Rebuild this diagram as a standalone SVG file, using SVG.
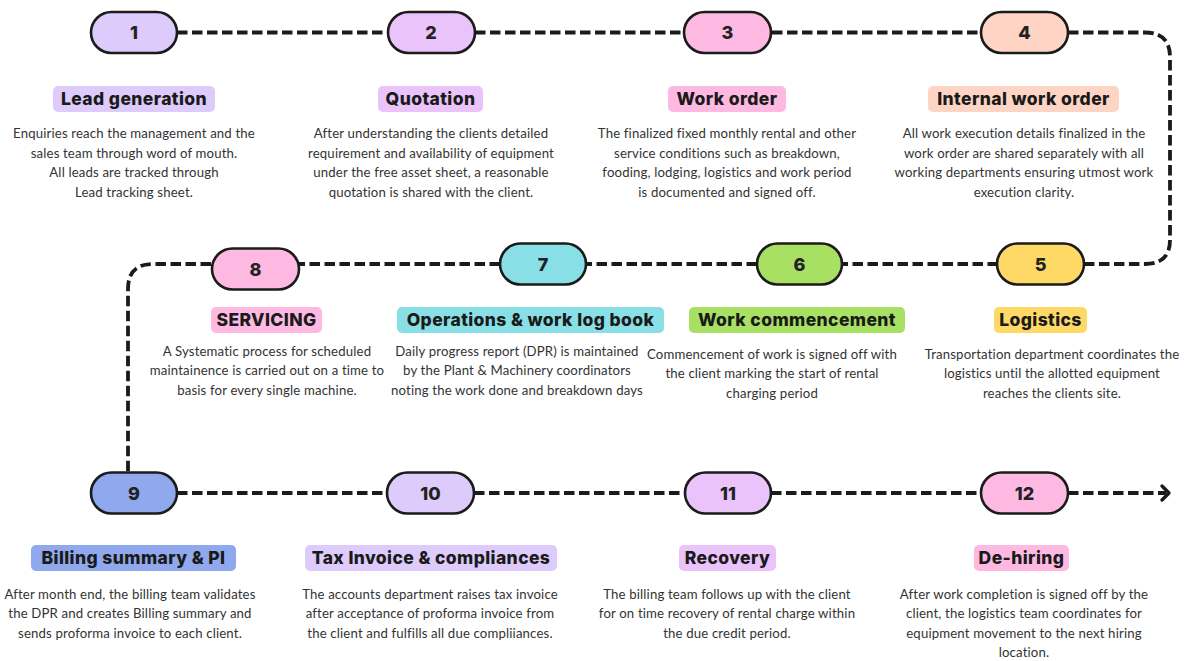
<svg xmlns="http://www.w3.org/2000/svg" width="1185" height="661" viewBox="0 0 1185 661">
<style>
.pill{stroke:#1b1b1b;stroke-width:2.6}
.num{font-family:Inter,"Liberation Sans",sans-serif;font-weight:800;font-size:18px;fill:#222;text-anchor:middle}
.lbl{font-family:Inter,"Liberation Sans",sans-serif;font-weight:800;font-size:17.5px;letter-spacing:0.4px;fill:#1a1a1a;text-anchor:middle}
.body{font-family:Lato,"Liberation Sans",sans-serif;font-size:13.2px;letter-spacing:0.15px;fill:#333;text-anchor:middle}
.conn{fill:none;stroke:#1b1b1b;stroke-width:3.8;stroke-dasharray:10.5 4.5}
.c1{fill:#dccbfb}.c2{fill:#ebc3fb}.c3{fill:#fdb9e2}.c4{fill:#fed5c4}.c5{fill:#ffd966}.c6{fill:#a8e063}.c7{fill:#88e0e6}.c9{fill:#8fa8ee}
</style>
<rect width="1185" height="661" fill="#ffffff"/>
<g id="connectors">
<path class="conn" d="M177,32.5 H387 M475,32.5 H684 M772,32.5 H980 M1068,32.5 H1145 Q1170,32.5 1170,57 V240 Q1170,264 1145,264 H1084"/>
<path class="conn" d="M998,264 H842 M757,264 H586 M500,264 H298 M211,264 H153 Q128,264 128,289 V472"/>
<path class="conn" d="M177,493 H387 M474,493 H685 M771,493 H981 M1068,493 H1166"/>
<polyline points="1162,486 1169,493 1162,500" fill="none" stroke="#1b1b1b" stroke-width="3.4" stroke-linecap="round" stroke-linejoin="round"/>
</g>
<g id="node1">
<rect class="pill c1" x="91" y="12" width="86" height="41" rx="20.5"/>
<text class="num" x="134" y="39">1</text>
<rect class="c1" x="53" y="86" width="162" height="26" rx="5"/>
<text class="lbl" x="134" y="105">Lead generation</text>
<text class="body" x="134" y="138">Enquiries reach the management and the</text>
<text class="body" x="134" y="157.5">sales team through word of mouth.</text>
<text class="body" x="134" y="177">All leads are tracked through</text>
<text class="body" x="134" y="196.5">Lead tracking sheet.</text>
</g>
<g id="node2">
<rect class="pill c2" x="388" y="12" width="87" height="41" rx="20.5"/>
<text class="num" x="431" y="39">2</text>
<rect class="c2" x="378" y="86" width="105" height="26" rx="5"/>
<text class="lbl" x="430.5" y="105">Quotation</text>
<text class="body" x="431" y="138">After understanding the clients detailed</text>
<text class="body" x="431" y="157.5">requirement and availability of equipment</text>
<text class="body" x="431" y="177">under the free asset sheet, a reasonable</text>
<text class="body" x="431" y="196.5">quotation is shared with the client.</text>
</g>
<g id="node3">
<rect class="pill c3" x="684" y="12" width="87" height="41" rx="20.5"/>
<text class="num" x="727.5" y="39">3</text>
<rect class="c3" x="668" y="86" width="118" height="26" rx="5"/>
<text class="lbl" x="727" y="105">Work order</text>
<text class="body" x="727" y="138">The finalized fixed monthly rental and other</text>
<text class="body" x="727" y="157.5">service conditions such as breakdown,</text>
<text class="body" x="727" y="177">fooding, lodging, logistics and work period</text>
<text class="body" x="727" y="196.5">is documented and signed off.</text>
</g>
<g id="node4">
<rect class="pill c4" x="981" y="12" width="87" height="41" rx="20.5"/>
<text class="num" x="1024.5" y="39">4</text>
<rect class="c4" x="928" y="86" width="191" height="26" rx="5"/>
<text class="lbl" x="1023.5" y="105">Internal work order</text>
<text class="body" x="1024" y="138">All work execution details finalized in the</text>
<text class="body" x="1024" y="157.5">work order are shared separately with all</text>
<text class="body" x="1024" y="177">working departments ensuring utmost work</text>
<text class="body" x="1024" y="196.5">execution clarity.</text>
</g>
<g id="node5">
<rect class="pill c5" x="997" y="243.5" width="87" height="41" rx="20.5"/>
<text class="num" x="1040.5" y="270.5">5</text>
<rect class="c5" x="994" y="307" width="93" height="26" rx="5"/>
<text class="lbl" x="1040.5" y="326">Logistics</text>
<text class="body" x="1052" y="358.5">Transportation department coordinates the</text>
<text class="body" x="1052" y="378">logistics until the allotted equipment</text>
<text class="body" x="1052" y="397.5">reaches the clients site.</text>
</g>
<g id="node6">
<rect class="pill c6" x="757" y="243.5" width="85" height="41" rx="20.5"/>
<text class="num" x="799.5" y="270.5">6</text>
<rect class="c6" x="689" y="307" width="216" height="26" rx="5"/>
<text class="lbl" x="797" y="326">Work commencement</text>
<text class="body" x="772" y="358.5">Commencement of work is signed off with</text>
<text class="body" x="772" y="378">the client marking the start of rental</text>
<text class="body" x="772" y="397.5">charging period</text>
</g>
<g id="node7">
<rect class="pill c7" x="500" y="243.5" width="86" height="41" rx="20.5"/>
<text class="num" x="543" y="270.5">7</text>
<rect class="c7" x="397" y="307" width="267" height="26" rx="5"/>
<text class="lbl" x="530.5" y="326">Operations &amp; work log book</text>
<text class="body" x="517" y="355.5">Daily progress report (DPR) is maintained</text>
<text class="body" x="517" y="375">by the Plant &amp; Machinery coordinators</text>
<text class="body" x="517" y="394.5">noting the work done and breakdown days</text>
</g>
<g id="node8">
<rect class="pill c3" x="212" y="248.5" width="87" height="41" rx="20.5"/>
<text class="num" x="255.5" y="275.5">8</text>
<rect class="c3" x="211" y="307" width="111" height="26" rx="5"/>
<text class="lbl" x="266.5" y="326">SERVICING</text>
<text class="body" x="267" y="355.5">A Systematic process for scheduled</text>
<text class="body" x="267" y="375">maintainence is carried out on a time to</text>
<text class="body" x="267" y="394.5">basis for every single machine.</text>
</g>
<g id="node9">
<rect class="pill c9" x="91" y="472.5" width="86" height="41" rx="20.5"/>
<text class="num" x="134" y="499.5">9</text>
<rect class="c9" x="31" y="545" width="205" height="26" rx="5"/>
<text class="lbl" x="133.5" y="564">Billing summary &amp; PI</text>
<text class="body" x="130" y="598.5">After month end, the billing team validates</text>
<text class="body" x="130" y="618">the DPR and creates Billing summary and</text>
<text class="body" x="130" y="637.5">sends proforma invoice to each client.</text>
</g>
<g id="node10">
<rect class="pill c1" x="387" y="472.5" width="87" height="41" rx="20.5"/>
<text class="num" x="430.5" y="499.5">10</text>
<rect class="c1" x="305" y="545" width="252" height="26" rx="5"/>
<text class="lbl" x="431" y="564">Tax Invoice &amp; compliances</text>
<text class="body" x="430" y="598.5">The accounts department raises tax invoice</text>
<text class="body" x="430" y="618">after acceptance of proforma invoice from</text>
<text class="body" x="430" y="637.5">the client and fulfills all due compliiances.</text>
</g>
<g id="node11">
<rect class="pill c2" x="685" y="472.5" width="86" height="41" rx="20.5"/>
<text class="num" x="728" y="499.5">11</text>
<rect class="c2" x="679" y="545" width="97" height="26" rx="5"/>
<text class="lbl" x="727.5" y="564">Recovery</text>
<text class="body" x="727" y="598.5">The billing team follows up with the client</text>
<text class="body" x="727" y="618">for on time recovery of rental charge within</text>
<text class="body" x="727" y="637.5">the due credit period.</text>
</g>
<g id="node12">
<rect class="pill c3" x="981" y="472.5" width="87" height="41" rx="20.5"/>
<text class="num" x="1024.5" y="499.5">12</text>
<rect class="c3" x="974" y="545" width="95" height="26" rx="5"/>
<text class="lbl" x="1021.5" y="564">De-hiring</text>
<text class="body" x="1024" y="598.5">After work completion is signed off by the</text>
<text class="body" x="1024" y="618">client, the logistics team coordinates for</text>
<text class="body" x="1024" y="637.5">equipment movement to the next hiring</text>
<text class="body" x="1024" y="657">location.</text>
</g>
</svg>
